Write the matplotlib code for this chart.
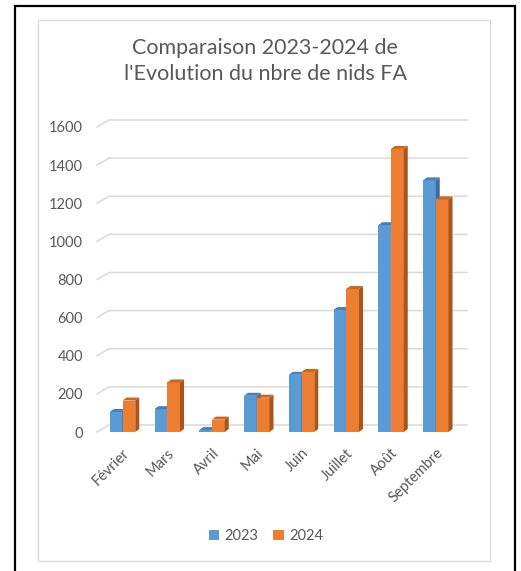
import matplotlib
matplotlib.use("Agg")
import matplotlib.pyplot as plt
from matplotlib.patches import Polygon, Rectangle, Patch
from matplotlib.lines import Line2D

# Data
mois = ["Février", "Mars", "Avril", "Mai", "Juin", "Juillet", "Août", "Septembre"]
nids_2023 = [105, 120, 10, 190, 300, 640, 1085, 1320]
nids_2024 = [165, 260, 65, 180, 315, 750, 1485, 1220]
annees = ["2023", "2024"]
yticks = [0, 200, 400, 600, 800, 1000, 1200, 1400, 1600]

# Style
BLUE = "#5B9BD5"
BLUE_TOP = "#4a80b8"
BLUE_SIDE = "#3d6d9c"
ORANGE = "#ED7D31"
ORANGE_TOP = "#c9661f"
ORANGE_SIDE = "#a8561c"
GRID = "#d9d9d9"
TXT = "#595959"
plt.rcParams["font.family"] = ["Lato", "DejaVu Sans"]

W, H = 521, 571


def fx(px):
    return px / W


def fy(py):
    return 1 - py / H


fig = plt.figure(figsize=(W / 100, H / 100), dpi=100)

# outer black frame + light chart border
fig.add_artist(Rectangle((fx(15), fy(580)), fx(515) - fx(15), fy(6) - fy(580),
                         transform=fig.transFigure, fill=False, ec="black", lw=1.6))
fig.add_artist(Rectangle((fx(38), fy(561)), fx(490) - fx(38), fy(20) - fy(561),
                         transform=fig.transFigure, fill=False, ec=GRID, lw=0.9))

# plot area (front plane)
left_px, right_px, top_px, bot_px = 97, 455, 127, 432
ax = fig.add_axes([fx(left_px), fy(bot_px), fx(right_px) - fx(left_px), fy(top_px) - fy(bot_px)])
xl, xr = -0.57, 7.43
ymax = 1600
ax.set_xlim(xl, xr)
ax.set_ylim(0, ymax)
px_x = (right_px - left_px) / (xr - xl)   # pixels per x unit
px_y = (bot_px - top_px) / ymax           # pixels per y unit

# back wall gridlines with a perspective step
gdx, gdy = 12 / px_x, 7 / px_y
for v in yticks:
    ax.add_line(Line2D([xl, xl + gdx, xr + gdx], [v, v + gdy, v + gdy],
                       color=GRID, lw=1.1, clip_on=False, zorder=1))

# 3D-ish bars
w = 0.285
bdx, bdy = 4 / px_x, 3 / px_y


def bar3d(c, v, front, top, side, z):
    x0, x1 = c - w / 2, c + w / 2
    ax.add_patch(Rectangle((x0, 0), w, v, fc=front, ec="none", zorder=z))
    ax.add_patch(Polygon([(x1, 0), (x1 + bdx, bdy), (x1 + bdx, v + bdy), (x1, v)],
                         fc=side, ec="none", zorder=z, clip_on=False))
    ax.add_patch(Polygon([(x0, v), (x0 + bdx, v + bdy), (x1 + bdx, v + bdy), (x1, v)],
                         fc=top, ec="none", zorder=z, clip_on=False))


for i in range(len(mois)):
    bar3d(i - w / 2, nids_2023[i], BLUE, BLUE_TOP, BLUE_SIDE, 3)
    bar3d(i + w / 2, nids_2024[i], ORANGE, ORANGE_TOP, ORANGE_SIDE, 4)

for s in ax.spines.values():
    s.set_visible(False)
ax.set_yticks(yticks)
ax.set_yticklabels([str(v) for v in yticks], fontsize=10.5, color=TXT)
ax.tick_params(axis="y", length=0, pad=10)
ax.set_xticks(range(len(mois)))
ax.set_xticklabels(mois, rotation=45, ha="right", va="top", rotation_mode="anchor",
                   fontsize=10.5, color=TXT)
ax.tick_params(axis="x", length=0, pad=10)
ax.patch.set_alpha(0)

fig.text(fx(265), fy(61), "Comparaison 2023-2024 de\nl'Evolution du nbre de nids FA",
         ha="center", va="center", fontsize=15.5, color=TXT, linespacing=1.35)

handles = [Patch(fc=BLUE, ec="none"), Patch(fc=ORANGE, ec="none")]
fig.legend(handles, annees, loc="center", bbox_to_anchor=(fx(266), fy(536)), ncol=2,
           frameon=False, fontsize=10.5, labelcolor=TXT, handlelength=0.7, handleheight=0.7,
           handletextpad=0.4, columnspacing=1.0)

fig.savefig("out.png", dpi=100)
